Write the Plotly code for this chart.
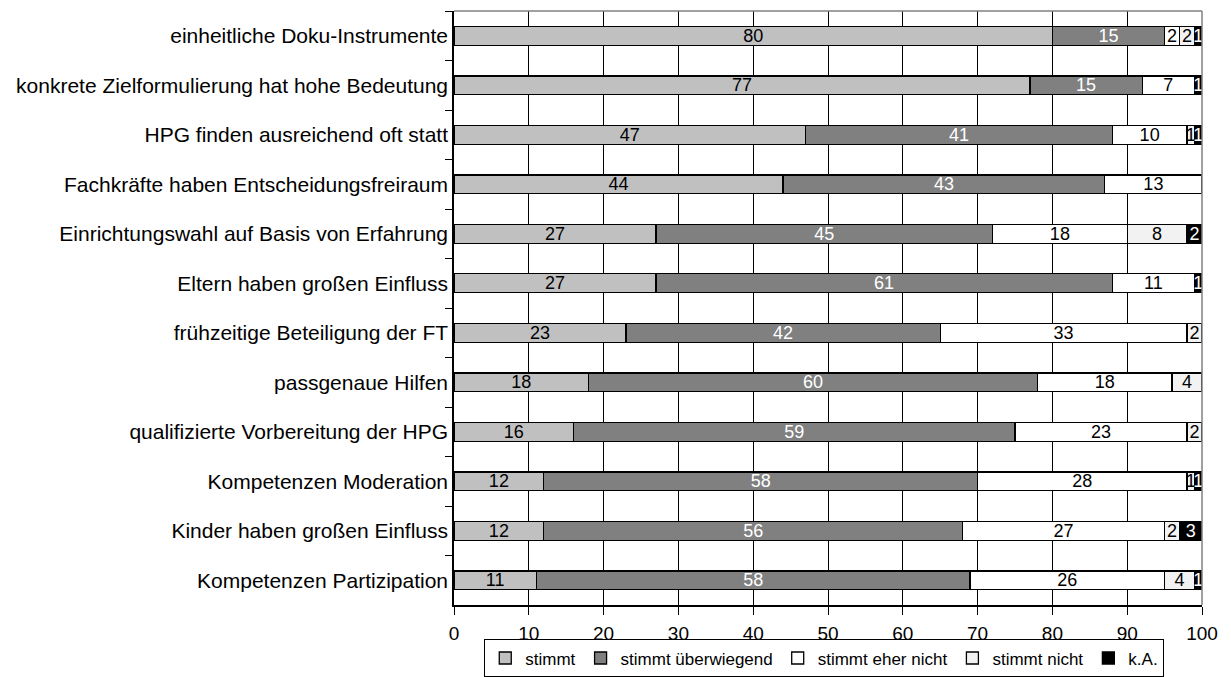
import plotly.graph_objects as go

categories = [
    "einheitliche Doku-Instrumente",
    "konkrete Zielformulierung hat hohe Bedeutung",
    "HPG finden ausreichend oft statt",
    "Fachkräfte haben Entscheidungsfreiraum",
    "Einrichtungswahl auf Basis von Erfahrung",
    "Eltern haben großen Einfluss",
    "frühzeitige Beteiligung der FT",
    "passgenaue Hilfen",
    "qualifizierte Vorbereitung der HPG",
    "Kompetenzen Moderation",
    "Kinder haben großen Einfluss",
    "Kompetenzen Partizipation",
]
stimmt = [80, 77, 47, 44, 27, 27, 23, 18, 16, 12, 12, 11]
ueberwiegend = [15, 15, 41, 43, 45, 61, 42, 60, 59, 58, 56, 58]
eher_nicht = [2, 7, 10, 13, 18, 11, 33, 18, 23, 28, 27, 26]
nicht = [2, 0, 1, 0, 8, 0, 2, 4, 2, 1, 2, 4]
ka = [1, 1, 1, 0, 2, 1, 0, 0, 0, 1, 3, 1]
x_ticks = [0, 10, 20, 30, 40, 50, 60, 70, 80, 90, 100]

series = [
    ("stimmt", stimmt, "#c0c0c0", "black"),
    ("stimmt überwiegend", ueberwiegend, "#808080", "white"),
    ("stimmt eher nicht", eher_nicht, "#ffffff", "black"),
    ("stimmt nicht", nicht, "#f2f2f2", "black"),
    ("k.A.", ka, "#000000", "white"),
]

FONT = "Liberation Sans, Arial"

fig = go.Figure()
for name, vals, color, tcolor in series:
    fig.add_trace(go.Bar(
        name=name, y=categories, x=vals, orientation="h",
        marker=dict(color=color, line=dict(color="black", width=1.3)),
        text=[str(v) if v > 0 else "" for v in vals],
        textposition="inside", insidetextanchor="middle", textangle=0,
        insidetextfont=dict(color=tcolor, size=18, family=FONT),
        width=0.38,
    ))

fig.add_shape(type="line", xref="paper", yref="paper", x0=0, x1=1, y0=1, y1=1,
              line=dict(color="#808080", width=1.5))
fig.add_shape(type="line", xref="paper", yref="paper", x0=1, x1=1, y0=0, y1=1,
              line=dict(color="#808080", width=1.5))

fig.update_layout(
    barmode="stack",
    width=1231, height=677,
    margin=dict(l=454, r=29, t=11, b=72, autoexpand=False),
    paper_bgcolor="white", plot_bgcolor="white",
    font=dict(family=FONT, size=18, color="black"),
    uniformtext=dict(minsize=18, mode="show"),
    legend=dict(
        orientation="h", x=0.495, xanchor="center", y=-0.058, yanchor="top",
        bordercolor="black", borderwidth=1, font=dict(size=17, family=FONT),
        traceorder="normal", itemwidth=30, tracegroupgap=0,
    ),
    xaxis=dict(
        range=[0, 100], tickvals=x_ticks, showgrid=True, gridcolor="black", gridwidth=1.3,
        showline=True, linecolor="black", linewidth=1.5, ticks="outside", ticklen=8,
        tickcolor="black", zeroline=False, tickfont=dict(size=19, family=FONT),
        ticklabelstandoff=2, automargin=False,
    ),
    yaxis=dict(
        autorange="reversed", showline=True, linecolor="black", linewidth=1.5,
        ticks="outside", tickson="boundaries", ticklen=7, tickcolor="black",
        showgrid=False, tickfont=dict(size=21, family=FONT), automargin=False,
    ),
)

fig.write_html("out.html", config={"displayModeBar": False},
               post_script="document.body.style.margin='0';")
